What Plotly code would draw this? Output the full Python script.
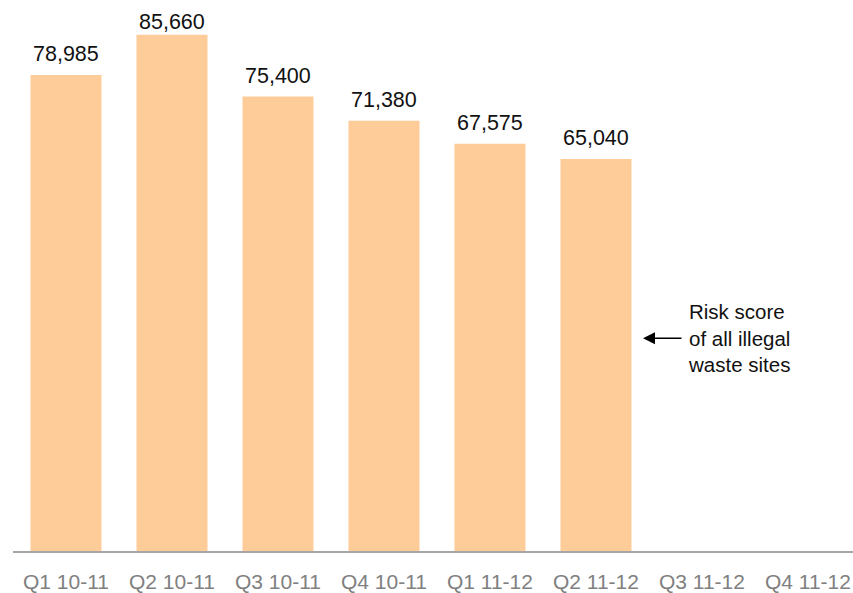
import plotly.graph_objects as go

quarters = ["Q1 10-11", "Q2 10-11", "Q3 10-11", "Q4 10-11",
            "Q1 11-12", "Q2 11-12", "Q3 11-12", "Q4 11-12"]
risk_scores = [78985, 85660, 75400, 71380, 67575, 65040, None, None]

BAR_COLOR = "#FECC99"
Y_MAX = 91430
PLOT_H = 554  # plot area height in px

fig = go.Figure()
fig.add_trace(go.Bar(
    x=quarters,
    y=risk_scores,
    marker=dict(color=BAR_COLOR, line=dict(width=0)),
    width=0.67,
    hoverinfo="x+y",
))

# value labels above each bar, kept inside the top of the plot area
for q, v in zip(quarters, risk_scores):
    if v is None:
        continue
    top_px = PLOT_H * (1 - v / Y_MAX)
    center_px = max(top_px - 21, 22)
    fig.add_annotation(
        x=q, y=v, text=f"{v:,}", showarrow=False,
        yanchor="middle", yshift=top_px - center_px,
        font=dict(family="Liberation Sans, Arial", size=21.5, color="#111111"),
    )

# side note with arrow pointing at the bars
fig.add_annotation(
    xref="paper", yref="paper", x=0.801, y=0.386,
    text="Risk score<br>of all illegal<br>waste sites",
    showarrow=False, xanchor="left", yanchor="middle", align="left",
    font=dict(family="Liberation Sans, Arial", size=20.5, color="#111111"),
)
fig.add_annotation(
    xref="paper", yref="paper", x=0.75, y=0.386,
    ax=40, ay=0,
    text="", showarrow=True, arrowhead=2, arrowsize=1.5,
    arrowwidth=1.6, arrowcolor="#000000",
)

fig.update_layout(
    width=853, height=593,
    margin=dict(l=13, r=0, t=0, b=39),
    plot_bgcolor="white", paper_bgcolor="white",
    showlegend=False,
    xaxis=dict(
        type="category", categoryarray=quarters, categoryorder="array",
        range=[-0.5, 7.425],
        showline=True, linecolor="#A6A6A6", linewidth=2,
        showgrid=False, ticks="", ticklen=0, ticklabelstandoff=11,
        tickfont=dict(family="Liberation Sans, Arial", size=21, color="#808080"),
    ),
    yaxis=dict(
        range=[0, Y_MAX], visible=False, showgrid=False, zeroline=False,
    ),
)

fig.write_html("out.html")
